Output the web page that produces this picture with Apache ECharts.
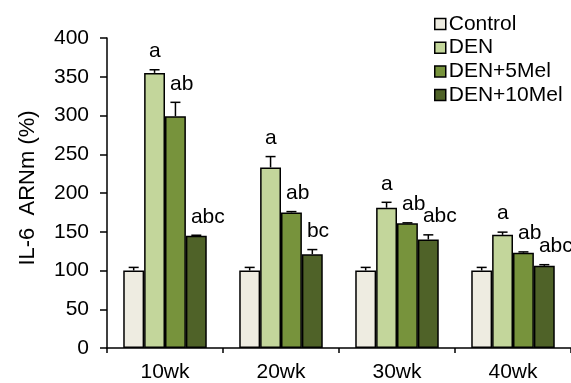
<!DOCTYPE html>
<html><head><meta charset="utf-8">
<script src="https://cdn.jsdelivr.net/npm/echarts@6/dist/echarts.min.js"></script>
<style>html,body{margin:0;padding:0;background:#fff}#c{width:571px;height:383px}</style>
</head><body><div id="c"></div>
<script>
var categories = ['10wk', '20wk', '30wk', '40wk'];
var seriesNames = ['Control', 'DEN', 'DEN+5Mel', 'DEN+10Mel'];
var control = [100, 100, 100, 100];
var den = [355, 233, 181, 146];
var den5 = [299, 175, 161, 123];
var den10 = [145, 121, 140, 106];
var controlErr = [4, 4, 4, 4];
var denErr = [4, 14, 7, 3.5];
var den5Err = [18, 1, 0.5, 1];
var den10Err = [0.5, 6, 6, 1.5];
var controlLetters = ['', '', '', ''];
var denLetters = ['a', 'a', 'a', 'a'];
var den5Letters = ['ab', 'ab', 'ab', 'ab'];
var den10Letters = ['abc', 'bc', 'abc', 'abc'];
var yTicks = [0, 50, 100, 150, 200, 250, 300, 350, 400];

var values = [control, den, den5, den10];
var errs = [controlErr, denErr, den5Err, den10Err];
var letters = [controlLetters, denLetters, den5Letters, den10Letters];
var colors = ['#EEECE1', '#C3D69B', '#77933C', '#4F6228'];
var FONT = 'Liberation Sans, Arial, sans-serif';
var FS = 21;
var CATGAP = 0.28;

var series = [];
values.forEach(function (vals, i) {
  series.push({
    name: seriesNames[i], type: 'bar', data: vals,
    barGap: '0%', barCategoryGap: (CATGAP * 100) + '%',
    itemStyle: { color: colors[i], borderColor: '#000', borderWidth: 1.5 },
    emphasis: { disabled: true }, animation: false
  });
});
values.forEach(function (vals, i) {
  var data = vals.map(function (v, j) { return [j, v, errs[i][j]]; });
  series.push({
    type: 'custom', data: data, animation: false, silent: true, z: 5,
    renderItem: function (params, api) {
      var j = api.value(0), v = api.value(1), e = api.value(2);
      var lt = letters[i][j];
      var band = api.size([1, 0])[0];
      var bw = band * (1 - CATGAP) / 4;
      var cx = api.coord([j, 0])[0] + (i - 1.5) * bw;
      var yv = api.coord([j, v])[1];
      var ye = api.coord([j, v + e])[1];
      var children = [
        { type: 'line', shape: { x1: cx, y1: yv, x2: cx, y2: ye }, style: { stroke: '#000', lineWidth: 1.5 } },
        { type: 'line', shape: { x1: cx - 5, y1: ye, x2: cx + 5, y2: ye }, style: { stroke: '#000', lineWidth: 1.5 } }
      ];
      if (lt) {
        children.push({ type: 'text', x: cx - bw / 2 + 5, y: ye - 8,
          style: { text: lt, fill: '#000', font: FS + 'px ' + FONT, align: 'left', verticalAlign: 'bottom' } });
      }
      return { type: 'group', children: children };
    }
  });
});

var chart = echarts.init(document.getElementById('c'), null, { renderer: 'canvas' });
chart.setOption({
  animation: false,
  textStyle: { fontFamily: FONT },
  grid: { left: 107, right: -1, top: 38, bottom: 33, containLabel: false },
  legend: {
    orient: 'vertical', left: 434, top: 13.5, padding: 0, itemWidth: 11, itemHeight: 11, itemGap: 2.7,
    icon: 'rect', data: seriesNames,
    textStyle: { fontSize: FS, color: '#000', fontFamily: FONT, lineHeight: 21, padding: [0, 0, 0, -2] },
    itemStyle: { borderColor: '#000', borderWidth: 1.5 }
  },
  xAxis: {
    type: 'category', data: categories,
    axisLine: { lineStyle: { color: '#000', width: 1.5 } },
    axisTick: { show: true, length: 5, lineStyle: { color: '#000', width: 1.5 } },
    axisLabel: { color: '#000', fontSize: FS, margin: 14, fontFamily: FONT }
  },
  yAxis: {
    type: 'value', min: 0, max: 400, interval: 50,
    name: 'IL-6  ARNm (%)', nameLocation: 'middle', nameGap: 68, nameRotate: 90,
    nameTextStyle: { color: '#000', fontSize: 22, fontFamily: FONT, padding: [0, 0, 0, 10] },
    axisLine: { show: true, lineStyle: { color: '#000', width: 1.5 } },
    axisTick: { show: true, length: 7, lineStyle: { color: '#000', width: 1.5 } },
    splitLine: { show: false },
    axisLabel: { color: '#000', fontSize: FS, margin: 18, fontFamily: FONT,
      formatter: function (v) { return yTicks.indexOf(v) >= 0 ? String(v) : ''; } }
  },
  series: series
});
</script></body></html>
